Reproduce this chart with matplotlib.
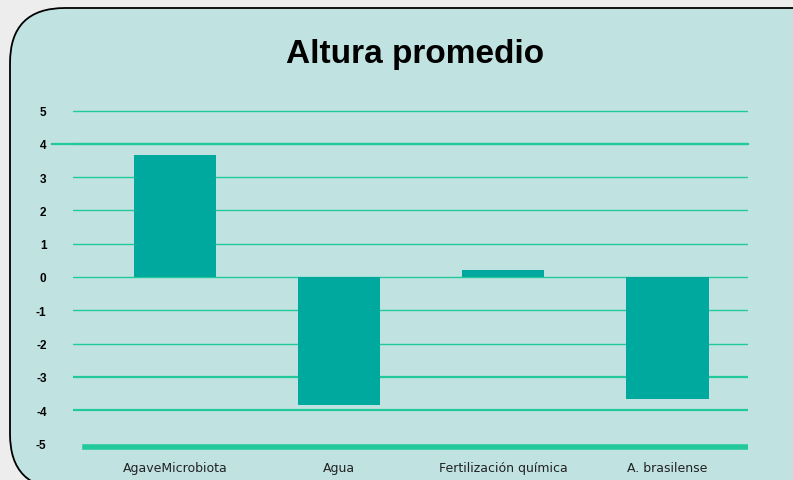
import matplotlib
matplotlib.use("Agg")
import matplotlib.pyplot as plt
from matplotlib.patches import FancyBboxPatch

# data
categories = ["AgaveMicrobiota", "Agua", "Fertilización química", "A. brasilense"]
values = [3.65, -3.85, 0.2, -3.65]
yticks = [-5, -4, -3, -2, -1, 0, 1, 2, 3, 4, 5]
grid_levels = [-4, -3, -2, -1, 0, 1, 2, 3, 4, 5]
title = "Altura promedio"

BAR = "#00a99d"
GRID = "#22c99a"
PANEL = "#c0e3e1"

W, H = 793, 481
fig = plt.figure(figsize=(W / 100, H / 100), dpi=100)
fig.patch.set_facecolor("#ededed")

# rounded panel drawn in pixel space
bg = fig.add_axes([0, 0, 1, 1])
bg.set_xlim(0, W); bg.set_ylim(H, 0); bg.axis("off")
bg.add_patch(FancyBboxPatch((10, 9), 950, 481, boxstyle="round,pad=0,rounding_size=55",
                            fc=PANEL, ec="black", lw=1.3))
bg.text(415, 54, title, ha="center", va="center", fontsize=24, fontweight="bold",
        family="Liberation Sans")

# data axes: value v sits at pixel y = 278 - 33.3 v
y0, y1 = -5.2, 5.2
top_px, bot_px = 278 - 33.3 * y1, 278 - 33.3 * y0
ax = fig.add_axes([73 / W, (H - bot_px) / H, (748 - 73) / W, (bot_px - top_px) / H])
ax.set_facecolor("none")
ax.set_ylim(y0, y1)
ax.set_xlim(-0.62, 3.49)
for s in ax.spines.values():
    s.set_visible(False)

thick = {4: 1.6, -3: 1.6, -4: 1.6}
for lv in grid_levels:
    ax.axhline(lv, color=GRID, lw=thick.get(lv, 1.0), zorder=1)
ax.plot([-0.75, 3.49], [4, 4], color=GRID, lw=1.6, zorder=1, clip_on=False)
ax.axhline(-5.1, xmin=0.018, xmax=1.0, color=GRID, lw=4, zorder=1)

x = list(range(len(categories)))
ax.bar(x, values, width=0.5, color=BAR, zorder=2)

ax.set_yticks(yticks)
ax.set_yticklabels([str(t) for t in yticks], fontsize=8.5, fontweight="bold",
                   family="Liberation Sans")
ax.set_xticks(x)
ax.set_xticklabels(categories, fontsize=9, family="DejaVu Sans", color="#222222")
ax.tick_params(axis="y", length=0, pad=19)
ax.tick_params(axis="x", length=0, pad=8)

fig.savefig("out.png", dpi=100, facecolor=fig.get_facecolor())
